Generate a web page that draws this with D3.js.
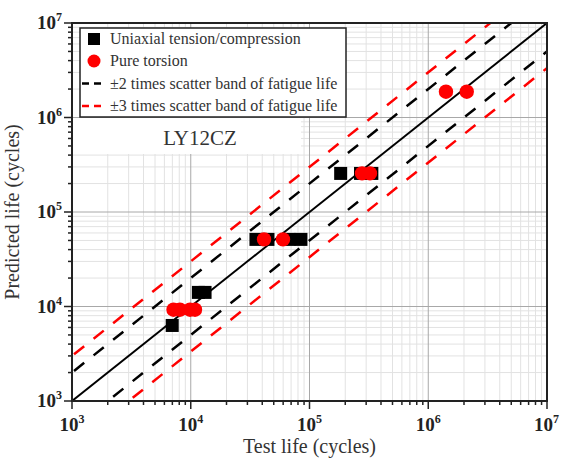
<!DOCTYPE html>
<html>
<head>
<meta charset="utf-8">
<script src="https://cdn.jsdelivr.net/npm/d3@7"></script>
<style>
  body { margin: 0; background: #fff; }
  text { font-family: "Liberation Serif", "Times New Roman", serif; }
</style>
</head>
<body>
<svg id="chart" width="561" height="463"></svg>
<script>
// values (cycles)
const uniaxialTest = [6980, 11600, 13200, 35400, 44700, 67200, 84700, 183000, 269000, 335000];
const uniaxialPred = [6300, 14100, 14100, 51300, 51300, 51300, 51300, 256000, 256000, 256000];
const torsionTest = [7160, 8110, 9860, 10860, 41400, 59800, 277000, 323000, 1410000, 2110000];
const torsionPred = [9250, 9250, 9250, 9250, 51300, 51300, 256000, 256000, 1875000, 1875000];
const bandFactors = [1 / 3, 1 / 2, 1, 2, 3];
const decades = [3, 4, 5, 6, 7];
const legendLabels = [
  "Uniaxial tension/compression",
  "Pure torsion",
  "\u00b12 times scatter band of fatigue life",
  "\u00b13 times scatter band of fatigue life"
];

var margin = { left: 72, right: 14, top: 23, bottom: 62 };
var svg = d3.select("#chart");
var W = +svg.attr("width"), H = +svg.attr("height");
var pw = W - margin.left - margin.right, ph = H - margin.top - margin.bottom;

var x = d3.scaleLog().domain([1e3, 1e7]).range([0, pw]);
var y = d3.scaleLog().domain([1e3, 1e7]).range([ph, 0]);

var g = svg.append("g").attr("transform", "translate(" + margin.left + "," + margin.top + ")");

svg.append("defs").append("clipPath").attr("id", "clip")
  .append("rect").attr("width", pw).attr("height", ph);

// all ticks 1..9 x 10^k
var allTicks = [];
decades.forEach(function (k) {
  for (var m = 1; m <= 9; m++) {
    var v = m * Math.pow(10, k);
    if (v <= 1e7) allTicks.push(v);
  }
});
var majorTicks = decades.map(function (k) { return Math.pow(10, k); });
var minorTicks = allTicks.filter(function (v) { return majorTicks.indexOf(v) < 0; });

// grid
var grid = g.append("g");
grid.selectAll(".mx").data(minorTicks).enter().append("line")
  .attr("x1", function (d) { return x(d); }).attr("x2", function (d) { return x(d); })
  .attr("y1", 0).attr("y2", ph).attr("stroke", "#e2e2e2").attr("stroke-width", 1);
grid.selectAll(".my").data(minorTicks).enter().append("line")
  .attr("y1", function (d) { return y(d); }).attr("y2", function (d) { return y(d); })
  .attr("x1", 0).attr("x2", pw).attr("stroke", "#e2e2e2").attr("stroke-width", 1);
grid.selectAll(".Mx").data(majorTicks).enter().append("line")
  .attr("x1", function (d) { return x(d); }).attr("x2", function (d) { return x(d); })
  .attr("y1", 0).attr("y2", ph).attr("stroke", "#a8a8a8").attr("stroke-width", 1);
grid.selectAll(".My").data(majorTicks).enter().append("line")
  .attr("y1", function (d) { return y(d); }).attr("y2", function (d) { return y(d); })
  .attr("x1", 0).attr("x2", pw).attr("stroke", "#a8a8a8").attr("stroke-width", 1);

// white box behind the material label
g.append("rect").attr("x", 1).attr("y", 95).attr("width", 228).attr("height", 36).attr("fill", "#fff");

// scatter bands
var bands = g.append("g").attr("clip-path", "url(#clip)");
bandFactors.forEach(function (f) {
  var ends = [1e3 / 3, 3e7];
  bands.append("line")
    .attr("x1", x(ends[0])).attr("y1", y(ends[0] * f))
    .attr("x2", x(ends[1])).attr("y2", y(ends[1] * f))
    .attr("stroke", (f == 3 || f == 1 / 3) ? "#ff0000" : "#000")
    .attr("stroke-width", f == 1 ? 2 : 2.5)
    .attr("stroke-dasharray", f == 1 ? null : "13,12");
});

// points
var sq = 13;
g.selectAll(".sq").data(uniaxialTest).enter().append("rect")
  .attr("x", function (d) { return x(d) - sq / 2; })
  .attr("y", function (d, i) { return y(uniaxialPred[i]) - sq / 2; })
  .attr("width", sq).attr("height", sq).attr("fill", "#000");
g.selectAll(".ci").data(torsionTest).enter().append("circle")
  .attr("cx", function (d) { return x(d); })
  .attr("cy", function (d, i) { return y(torsionPred[i]); })
  .attr("r", 7.2).attr("fill", "#ff0000");

// axes frame and ticks
var tickColor = "#222";
var ax = g.append("g");
ax.selectAll(".bt").data(allTicks).enter().append("line")
  .attr("x1", function (d) { return x(d); }).attr("x2", function (d) { return x(d); })
  .attr("y1", ph).attr("y2", function (d) { return ph + (majorTicks.indexOf(d) >= 0 ? 8 : 4); })
  .attr("stroke", tickColor).attr("stroke-width", 1.5);
ax.selectAll(".lt").data(allTicks).enter().append("line")
  .attr("y1", function (d) { return y(d); }).attr("y2", function (d) { return y(d); })
  .attr("x1", 0).attr("x2", function (d) { return majorTicks.indexOf(d) >= 0 ? -8 : -4; })
  .attr("stroke", tickColor).attr("stroke-width", 1.5);
g.append("rect").attr("width", pw).attr("height", ph)
  .attr("fill", "none").attr("stroke", "#222").attr("stroke-width", 2);

// tick labels 10^k
function powLabel(sel, k) {
  sel.append("tspan").text("10");
  sel.append("tspan").attr("dy", -8).attr("font-size", 12).text(k);
}
decades.forEach(function (k, i) {
  var last = i == decades.length - 1;
  var t = g.append("text").attr("x", last ? pw + 12 : x(Math.pow(10, k)))
    .attr("y", ph + 30)
    .attr("text-anchor", last ? "end" : "middle").attr("font-size", 19).attr("font-weight", "bold").attr("fill", "#222");
  powLabel(t, k);
  var t2 = g.append("text").attr("x", -10).attr("y", y(Math.pow(10, k)) + 6)
    .attr("text-anchor", "end").attr("font-size", 19).attr("font-weight", "bold").attr("fill", "#222");
  powLabel(t2, k);
});

// axis titles
svg.append("text").attr("x", margin.left + pw / 2).attr("y", 453)
  .attr("text-anchor", "middle").attr("font-size", 20).attr("fill", "#333")
  .text("Test life (cycles)");
svg.append("text").attr("transform", "translate(19," + (margin.top + ph / 2) + ") rotate(-90)")
  .attr("text-anchor", "middle").attr("font-size", 20).attr("fill", "#333")
  .text("Predicted life (cycles)");

// material label
g.append("text").attr("x", 128).attr("y", 122).attr("text-anchor", "middle")
  .attr("font-size", 21).attr("fill", "#333").text("LY12CZ");

// legend
var lg = g.append("g").attr("transform", "translate(8,5)");
lg.append("rect").attr("width", 266).attr("height", 89)
  .attr("fill", "#fff").attr("stroke", "#222").attr("stroke-width", 1.5);
var rowY = [11, 33, 55.5, 78];
lg.append("rect").attr("x", 8).attr("y", rowY[0] - 6).attr("width", 12).attr("height", 12).attr("fill", "#000");
lg.append("circle").attr("cx", 14).attr("cy", rowY[1]).attr("r", 6.5).attr("fill", "#ff0000");
lg.append("line").attr("x1", 2).attr("x2", 22).attr("y1", rowY[2]).attr("y2", rowY[2])
  .attr("stroke", "#000").attr("stroke-width", 2.5).attr("stroke-dasharray", "7,5");
lg.append("line").attr("x1", 2).attr("x2", 22).attr("y1", rowY[3]).attr("y2", rowY[3])
  .attr("stroke", "#ff0000").attr("stroke-width", 2.5).attr("stroke-dasharray", "7,5");
lg.selectAll(".lt").data(legendLabels).enter().append("text")
  .attr("x", 30).attr("y", function (d, i) { return rowY[i] + 5; })
  .attr("font-size", 16).attr("fill", "#333")
  .text(function (d) { return d; });
</script>
</body>
</html>
